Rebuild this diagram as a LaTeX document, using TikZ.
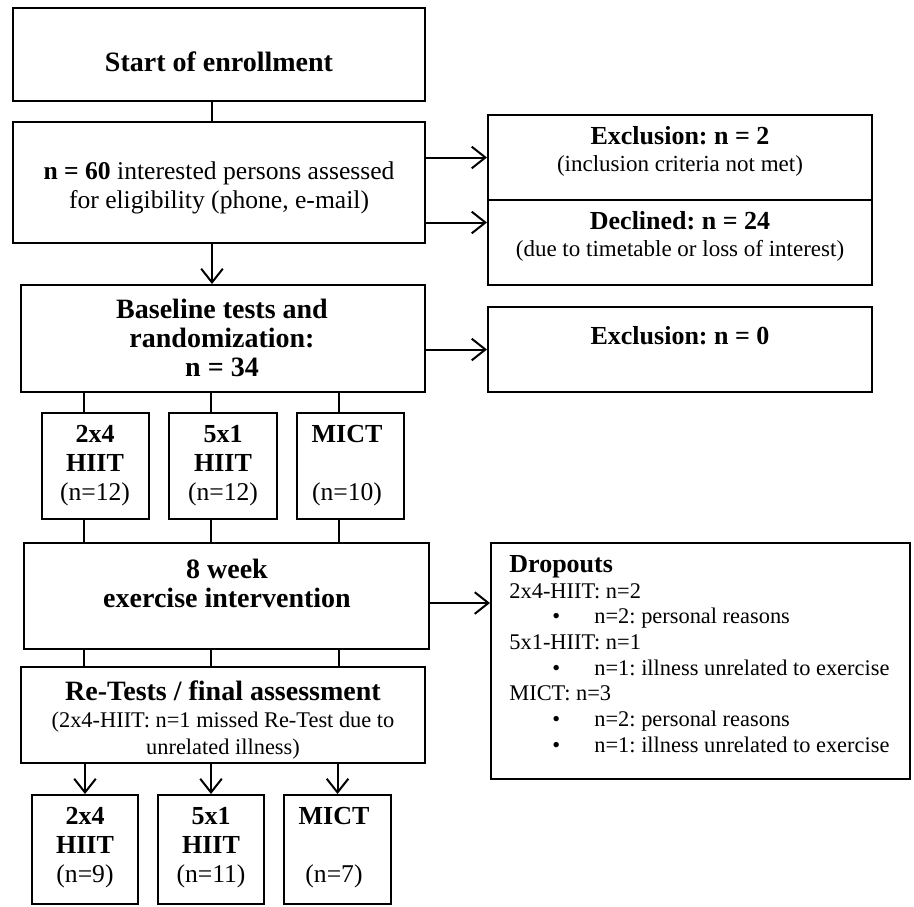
\documentclass[tikz,border=0pt]{standalone}
\usepackage{fontspec}
\setmainfont{Liberation Serif}
\usetikzlibrary{arrows.meta,positioning,fit}
\frenchspacing
\newcommand{\hd}[1]{{\fontsize{13}{14}\selectfont\bfseries #1}}
\newcommand{\blt}{\hspace*{21.5pt}\makebox[21pt][l]{\textbullet}}
\tikzset{
  box/.style={draw=black, line width=1pt, inner sep=0pt},
  headtext/.style={font=\fontsize{14}{14.5}\selectfont\bfseries, align=center, inner sep=0pt},
  maintext/.style={font=\fontsize{12.8}{14.5}\selectfont, align=center, inner sep=0pt},
  subtext/.style={font=\fontsize{11.5}{13.5}\selectfont, align=center, inner sep=0pt},
  droptext/.style={font=\fontsize{11.2}{12.85}\selectfont, align=left, inner sep=0pt},
  line/.style={draw=black, line width=1pt},
  arrow/.style={-{Straight Barb[length=2.4mm,width=3.8mm]}, draw=black, line width=1pt}
}

\begin{document}
\begin{tikzpicture}[x=0.5pt,y=-0.5pt]
  \useasboundingbox (0,0) rectangle (914,906);
  \node[box, fit={(13,8) (425,101)}] (start) {};
  \node[headtext] (startlbl) at (219,62) {Start of enrollment};
  \node[box, fit={(13,122) (425,243)}] (elig) {};
  \node[maintext] (eliglbl) at (219,188) {\textbf{n = 60} interested persons assessed\\for eligibility (phone, e-mail)};

  \node[box, fit={(488,115) (872,200)}] (excl) {};
  \node[subtext] (excllbl) at (680,151) {\hd{Exclusion: n = 2}\\(inclusion criteria not met)};
  \node[box, fit={(488,200) (872,285)}] (decl) {};
  \node[subtext] (decllbl) at (680,236) {\hd{Declined: n = 24}\\(due to timetable or loss of interest)};

  \node[box, fit={(21,285) (425,392)}] (base) {};
  \node[headtext] (baselbl) at (222,338) {Baseline tests and\\randomization:\\n = 34};
  \node[box, fit={(488,307) (872,392)}] (exclz) {};
  \node[subtext] (exclzlbl) at (680,336) {\hd{Exclusion: n = 0}};

  \node[box, fit={(42,413) (149,519)}] (grpa) {};
  \node[maintext] (grpalbl) at (95,466) {\hd{2x4}\\\hd{HIIT}\\(n=12)};
  \node[box, fit={(169,413) (277,519)}] (grpb) {};
  \node[maintext] (grpblbl) at (223,466) {\hd{5x1}\\\hd{HIIT}\\(n=12)};
  \node[box, fit={(297,413) (404,519)}] (grpc) {};
  \node[maintext] (grpclbl) at (347,466) {\hd{MICT}\\\mbox{}\\(n=10)};

  \node[box, fit={(24,543) (429,649)}] (interv) {};
  \node[headtext] (intervlbl) at (227,583) {8 week\\exercise intervention};
  \node[box, fit={(491,543) (910,779)}] (drop) {};
  \node[droptext, anchor=north west] (droplbl) at (509,555) {\hd{Dropouts}\\
    2x4-HIIT: n=2\\
    \blt n=2: personal reasons\\
    5x1-HIIT: n=1\\
    \blt n=1: illness unrelated to exercise\\
    MICT: n=3\\
    \blt n=2: personal reasons\\
    \blt n=1: illness unrelated to exercise};

  \node[box, fit={(21,667) (425,763)}] (retest) {};
  \node[subtext, font=\fontsize{11.2}{13.5}\selectfont] (retestlbl) at (223,720) {{\fontsize{14}{14}\selectfont\bfseries Re-Tests / final assessment}\\(2x4-HIIT: n=1 missed Re-Test due to\\unrelated illness)};

  \node[box, fit={(32,795) (138,904)}] (fina) {};
  \node[maintext] (finalbl) at (85,848) {\hd{2x4}\\\hd{HIIT}\\(n=9)};
  \node[box, fit={(158,795) (264,904)}] (finb) {};
  \node[maintext] (finblbl) at (211,848) {\hd{5x1}\\\hd{HIIT}\\(n=11)};
  \node[box, fit={(284,795) (391,904)}] (finc) {};
  \node[maintext] (finclbl) at (334,848) {\hd{MICT}\\\mbox{}\\(n=7)};

  \coordinate (basein) at ([xshift=-5.5pt]base.north);
  \draw[line] (start.south -| basein) -- (elig.north -| basein);
  \draw[arrow] (elig.south -| basein) -- (basein);
  \draw[arrow] (elig.east |- excl.west) -- (excl.west);
  \coordinate (declin) at ([yshift=10pt]decl.west);
  \draw[arrow] (elig.east |- declin) -- (declin);
  \draw[arrow] (base.east |- exclz.west) -- (exclz.west);
  \coordinate (dropin) at ([yshift=-3.5pt]interv.east);
  \draw[arrow] (dropin) -- (dropin -| drop.west);
  \foreach \g/\f in {grpa/fina,grpb/finb,grpc/finc} {
    \coordinate (top\g) at ([xshift=-6pt]\g.north);
    \coordinate (bot\g) at ([xshift=-6pt]\g.south);
    \draw[line] (base.south -| top\g) -- (top\g);
    \draw[line] (bot\g) -- (bot\g |- interv.north);
    \draw[line] (interv.south -| bot\g) -- (retest.north -| bot\g);
    \draw[arrow] (retest.south -| \f) -- (\f.north);
  }
\end{tikzpicture}
\end{document}
